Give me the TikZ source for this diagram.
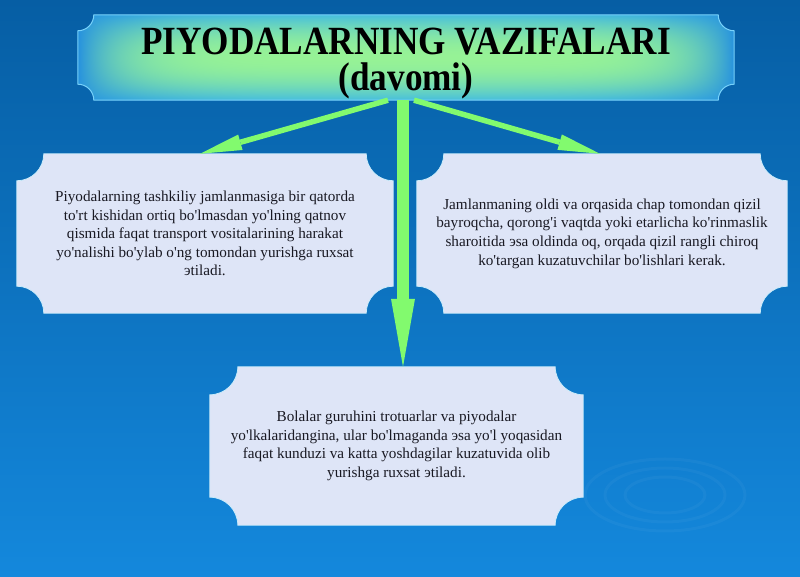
\documentclass[tikz,border=0pt]{standalone}
\usepackage{fontspec}
\setmainfont{Liberation Serif}[Ligatures=TeXOff]
\newfontfamily\titlefont{Liberation Serif}[Ligatures=TeXOff, FakeStretch=0.88]
\usetikzlibrary{arrows.meta, backgrounds, calc}
\definecolor{bgtop}{RGB}{6,94,164}
\definecolor{bgbottom}{RGB}{20,136,220}
\definecolor{cardfill}{RGB}{222,229,247}
\definecolor{cardedge}{RGB}{200,235,250}
\definecolor{inkdark}{RGB}{25,25,35}
\definecolor{tedge}{RGB}{120,210,250}
\definecolor{arrowgreen}{RGB}{130,250,110}
\pgfdeclarefunctionalshading{titleglow}{\pgfpointorigin}{\pgfpoint{100bp}{100bp}}{}{
  50 sub abs 25 div exch 50 sub abs 25 div
  dup dup mul dup dup mul exch 1 index mul 1 exch sub 3 -1 roll pop
  3 -1 roll dup mul 1 exch sub mul
  1 index -0.126 mul 0.275 add 1 index 1 exch sub mul 1 index 0.588 mul add 3 1 roll
  1 index -0.176 mul 0.745 add 1 index 1 exch sub mul 1 index 0.949 mul add 3 1 roll
  1 index 0.0 mul 0.870 add 1 index 1 exch sub mul 1 index 0.588 mul add 3 1 roll
  pop pop
}
\def\plaque#1#2{let \p1=(#1.north west), \p2=(#1.south east) in
  (\x1+#2,\y1) -- (\x2-#2,\y1) arc[start angle=180, end angle=270, radius=#2]
  -- (\x2,\y2+#2) arc[start angle=90, end angle=180, radius=#2]
  -- (\x1+#2,\y2) arc[start angle=0, end angle=90, radius=#2]
  -- (\x1,\y1-#2) arc[start angle=270, end angle=360, radius=#2] -- cycle}
\tikzset{
  card/.style={fill=cardfill, draw=cardedge, line width=0.8pt},
  cardtext/.style={inner sep=0pt, align=center, text=inkdark, font=\fontsize{15.2}{18.6}\selectfont},
  flow/.style={draw=arrowgreen}
}

\begin{document}
\begin{tikzpicture}[x=1pt, y=1pt]
	\useasboundingbox (0,0) rectangle (800,577);

	\node[inner sep=0pt, align=center, text=black, minimum width=656pt, minimum height=85pt,
		font=\titlefont\bfseries\fontsize{40}{36}\selectfont] (title) at (406,519.5)
		{\rule{0pt}{38pt}PIYODALARNING VAZIFALARI\\(davomi)};
	\node[cardtext, minimum width=376pt, minimum height=159pt] (group) at (205,343.5)
		{Piyodalarning tashkiliy jamlanmasiga bir qatorda\\to'rt kishidan ortiq bo'lmasdan yo'lning qatnov\\qismida faqat transport vositalarining harakat\\yo'nalishi bo'ylab o'ng tomondan yurishga ruxsat\\эtiladi.};
	\node[cardtext, minimum width=370pt, minimum height=159pt] (escort) at (602,343.5)
		{Jamlanmaning oldi va orqasida chap tomondan qizil\\bayroqcha, qorong'i vaqtda yoki etarlicha ko'rinmaslik\\sharoitida эsa oldinda oq, orqada qizil rangli chiroq\\ko'targan kuzatuvchilar bo'lishlari kerak.};
	\node[cardtext, minimum width=373pt, minimum height=158pt] (kids) at (396.5,131)
		{Bolalar guruhini trotuarlar va piyodalar\\yo'lkalaridangina, ular bo'lmaganda эsa yo'l yoqasidan\\faqat kunduzi va katta yoshdagilar kuzatuvida olib\\yurishga ruxsat эtiladi.};

	\begin{scope}[on background layer]
		\shade[top color=bgtop, bottom color=bgbottom] (0,0) rectangle (800,577);
		\foreach \r in {40,60,80}
			\draw[white, opacity=0.035, line width=3pt] (665,82) ellipse [x radius=\r pt, y radius=0.45*\r pt];
		\path[shade, shading=titleglow] \plaque{title}{16pt};
		\draw[tedge, line width=1pt] \plaque{title}{16pt};
		\path[card] \plaque{group}{27pt};
		\path[card] \plaque{escort}{27pt};
		\path[card] \plaque{kids}{28pt};
	\end{scope}

	\coordinate (hub) at ([xshift=-3pt]title.south);
	\draw[flow, line width=12pt, -{Triangle[length=68pt, width=24pt, line width=0pt]}] (hub) -- (hub |- kids.north);
	\draw[flow, line width=5.5pt, -{Triangle[length=42pt, width=16pt, line width=0pt]}] ([xshift=-15pt]hub) -- ([xshift=-5pt]group.north);
	\draw[flow, line width=5.5pt, -{Triangle[length=42pt, width=16pt, line width=0pt]}] ([xshift=11pt]hub) -- ([xshift=-2pt]escort.north);
\end{tikzpicture}
\end{document}
